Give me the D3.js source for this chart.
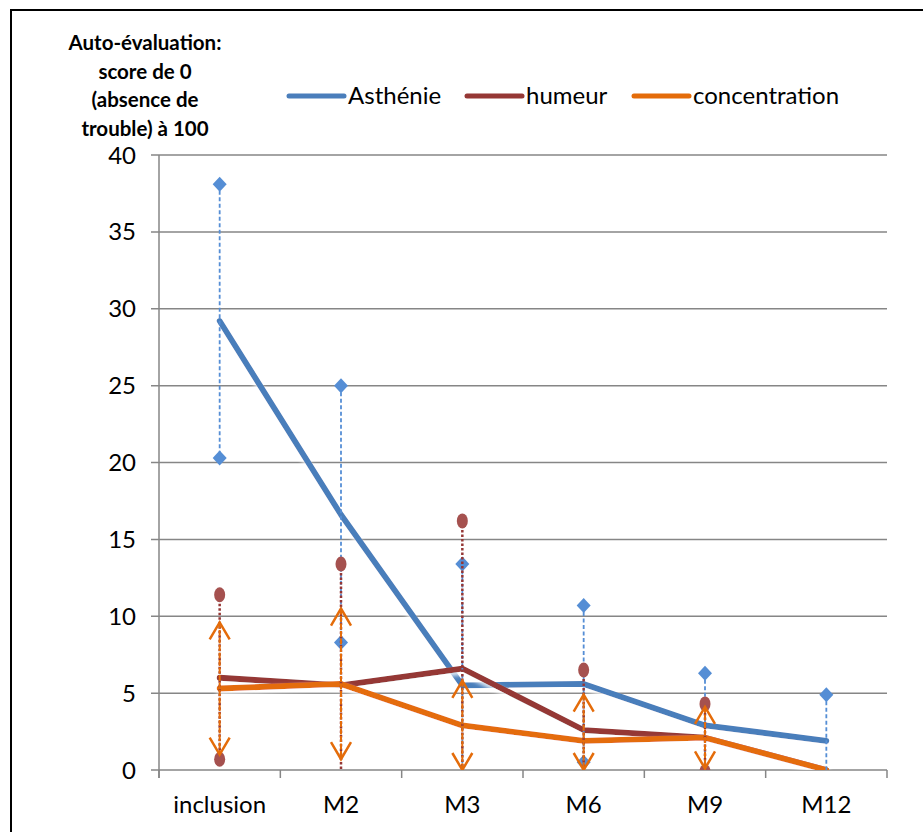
<!DOCTYPE html>
<html><head><meta charset="utf-8">
<script src="https://cdn.jsdelivr.net/npm/d3@7"></script>
<style>
html,body{margin:0;padding:0;background:#fff;}
svg{display:block;}
text{font-family:"Lato","Open Sans",sans-serif;}
</style></head>
<body><svg id="c" width="923" height="832"></svg>
<script>
const categories = ["inclusion","M2","M3","M6","M9","M12"];
const yTicks = [0,5,10,15,20,25,30,35,40];
const titleLines = ["Auto-évaluation:","score de 0","(absence de","trouble) à 100"];

const seriesNames = ["Asthénie","humeur","concentration"];
const asthenie      = [29.2, 16.6, 5.5, 5.6, 2.9, 1.9];
const asthenieHigh  = [38.1, 25.0, 13.4, 10.7, 6.3, 4.9];
const asthenieLow   = [20.3, 8.3, -2.4, 0.5, -0.5, -1.1];
const humeur        = [6.0, 5.5, 6.6, 2.6, 2.1, 0];
const humeurHigh    = [11.4, 13.4, 16.2, 6.5, 4.3, null];
const humeurLow     = [0.7, -2.4, -3.0, -1.3, -0.1, null];
const concentration = [5.3, 5.6, 2.9, 1.9, 2.1, 0];
const concentrationHigh = [9.6, 10.5, 5.8, 4.9, 4.1, null];
const concentrationLow  = [1.0, 0.7, 0.0, 0.0, 0.1, null];

const colors = {line:["#4a7ebb","#953735","#e46c0a"], marker:["#558ed5","#a5514f","#e46c0a"]};

const svg = d3.select("#c");
const L=159, R=887, T=155, B=770;
const x = d3.scaleBand().domain(categories).range([L,R]);
const xc = c => x(c)+x.bandwidth()/2;
const y = d3.scaleLinear().domain([0,40]).range([B,T]);

// frame
svg.append("rect").attr("x",11).attr("y",10).attr("width",940).attr("height",840)
  .attr("fill","none").attr("stroke","#000").attr("stroke-width",2);

const defs = svg.append("defs");
defs.append("clipPath").attr("id","plot").append("rect").attr("x",L-20).attr("y",T-20).attr("width",R-L+40).attr("height",B-T+20);
const f = defs.append("filter").attr("id","sh").attr("x","-10%").attr("y","-10%").attr("width","120%").attr("height","130%");
f.append("feDropShadow").attr("dx",0).attr("dy",3).attr("stdDeviation",2).attr("flood-color","#fff").attr("flood-opacity",0.9);

// grid
const axisColor="#868686";
svg.append("g").selectAll("line").data(yTicks).join("line")
  .attr("x1",L-8).attr("x2",R).attr("y1",d=>y(d)).attr("y2",d=>y(d))
  .attr("stroke",axisColor).attr("stroke-width",1.5);
svg.append("line").attr("x1",L).attr("x2",L).attr("y1",T).attr("y2",B+8).attr("stroke",axisColor).attr("stroke-width",1.5);
const bounds = categories.map(c=>x(c)).concat([R]);
svg.append("g").selectAll("line").data(bounds).join("line")
  .attr("x1",d=>d).attr("x2",d=>d).attr("y1",B).attr("y2",B+8)
  .attr("stroke",axisColor).attr("stroke-width",1.5);

// y labels
svg.append("g").selectAll("text").data(yTicks).join("text")
  .attr("x",L-23).attr("y",d=>y(d)+8.5).attr("text-anchor","end")
  .attr("font-size",24).attr("fill","#000").text(d=>d);
// x labels
svg.append("g").selectAll("text").data(categories).join("text")
  .attr("x",d=>xc(d)).attr("y",813).attr("text-anchor","middle")
  .attr("font-size",24).attr("fill","#000").text(d=>d);

// title
svg.append("g").selectAll("text").data(titleLines).join("text")
  .attr("x",145).attr("y",(d,i)=>50+i*28.7).attr("text-anchor","middle")
  .attr("font-size",20.5).attr("font-weight","bold").attr("fill","#000").text(d=>d);

// legend
const legX = [289, 467, 634];
const lg = svg.append("g");
seriesNames.forEach((n,i)=>{
  lg.append("line").attr("x1",legX[i]).attr("x2",legX[i]+55).attr("y1",96).attr("y2",96)
    .attr("stroke",colors.line[i]).attr("stroke-width",5).attr("stroke-linecap","round");
  lg.append("text").attr("x",legX[i]+59).attr("y",104).attr("font-size",24).attr("fill","#000").text(n);
});

const plot = svg.append("g").attr("clip-path","url(#plot)");
const vals = [asthenie, humeur, concentration];
const clampY = v => y(Math.max(v, -1.5));

const lineGen = d3.line().x((d,i)=>xc(categories[i])).y(d=>y(d));
vals.forEach((v,i)=>{
  plot.append("path").datum(v).attr("d",lineGen).attr("fill","none")
    .attr("stroke",colors.line[i]).attr("stroke-width",5.8)
    .attr("stroke-linejoin","round").attr("stroke-linecap","round").attr("filter","url(#sh)");
});

defs.append("clipPath").attr("id","eb").append("rect").attr("x",L-20).attr("y",T-20).attr("width",R-L+40).attr("height",B-T+20);
const eb = svg.append("g").attr("clip-path","url(#eb)");
const diamond = "M0,-7.5L7,0L0,7.5L-7,0Z";

categories.forEach((c,j)=>{
  const cx = xc(c);
  eb.append("line").attr("x1",cx).attr("x2",cx).attr("y1",y(asthenieHigh[j])).attr("y2",clampY(asthenieLow[j]))
    .attr("stroke",colors.marker[0]).attr("stroke-width",1.8).attr("stroke-dasharray","4,2.5");
  [asthenieHigh[j], asthenieLow[j]].forEach(v=>{
    eb.append("path").attr("d",diamond)
      .attr("transform",`translate(${cx},${y(v)})`).attr("fill",colors.marker[0]);
  });
  if (humeurHigh[j]!==null){
    eb.append("line").attr("x1",cx).attr("x2",cx).attr("y1",y(humeurHigh[j])).attr("y2",clampY(humeurLow[j]))
      .attr("stroke",colors.line[1]).attr("stroke-width",2.5).attr("stroke-dasharray","2.5,2");
    [humeurHigh[j], humeurLow[j]].forEach(v=>{
      eb.append("ellipse").attr("cx",cx).attr("cy",y(v)).attr("rx",5.5).attr("ry",7.5).attr("fill",colors.marker[1]);
    });
  }
  if (concentrationHigh[j]!==null){
    eb.append("line").attr("x1",cx).attr("x2",cx).attr("y1",y(concentrationHigh[j])).attr("y2",y(concentrationLow[j]))
      .attr("stroke",colors.line[2]).attr("stroke-width",2).attr("stroke-dasharray","6,1.5");
    const yh = y(concentrationHigh[j]), yl = y(concentrationLow[j]);
    eb.append("path").attr("d",`M${cx-10},${yh+17}L${cx},${yh}L${cx+10},${yh+17}`)
      .attr("fill","none").attr("stroke",colors.line[2]).attr("stroke-width",2.5);
    eb.append("path").attr("d",`M${cx-10},${yl-17}L${cx},${yl}L${cx+10},${yl-17}`)
      .attr("fill","none").attr("stroke",colors.line[2]).attr("stroke-width",2.5);
  }
});
</script></body></html>
